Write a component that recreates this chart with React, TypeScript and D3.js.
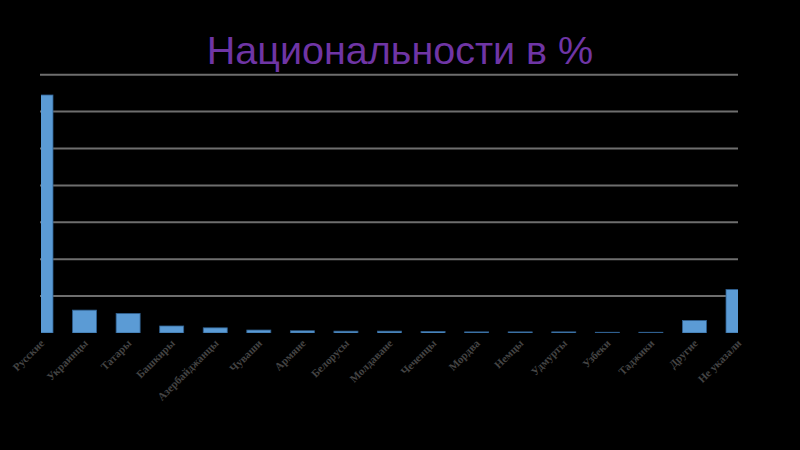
import React from "react";
import * as d3 from "d3";

const categories = [
  "Русские", "Украинцы", "Татары", "Башкиры", "Азербайджанцы", "Чуваши",
  "Армяне", "Белорусы", "Молдаване", "Чеченцы", "Мордва", "Немцы",
  "Удмурты", "Узбеки", "Таджики", "Другие", "Не указали",
];
const values = [64.5, 6.2, 5.3, 1.9, 1.4, 0.8, 0.6, 0.5, 0.5, 0.4, 0.3, 0.3, 0.3, 0.2, 0.2, 3.4, 11.8];
const yTicks = [10, 20, 30, 40, 50, 60, 70];
const title = "Национальности в %";

const W = 800, H = 450;
const left = 41, right = 738, top = 74.7, bottom = 333;

export default function App() {
  const x = d3.scalePoint<string>().domain(categories).range([left, right]);
  const y = d3.scaleLinear().domain([0, 70]).range([bottom, top]);
  const bw = 24;
  return (
    <svg width={W} height={H} style={{ position: "absolute", left: 0, top: 0, background: "#000" }}>
      <rect x={0} y={0} width={W} height={H} fill="#000" />
      <defs>
        <clipPath id="plot">
          <rect x={left} y={0} width={right - left} height={bottom} />
        </clipPath>
      </defs>
      <text x={400} y={64} textAnchor="middle" fill="#6f35a5" fontFamily="'Liberation Sans', Arial, sans-serif" fontSize={39.5}>
        {title}
      </text>
      {yTicks.map((t) => (
        <line key={t} x1={left - 1} x2={right} y1={y(t)} y2={y(t)} stroke="#6e6e6e" strokeWidth={2} />
      ))}
      <g clipPath="url(#plot)">
        {values.map((v, i) => (
          <rect
            key={categories[i]}
            x={(x(categories[i]) as number) - bw / 2}
            y={y(v)}
            width={bw}
            height={bottom - y(v)}
            fill="#5b9bd5"
            stroke="#2f5f8f"
            strokeWidth={0.8}
          />
        ))}
      </g>
      {categories.map((c) => {
        const cx = (x(c) as number) + 4;
        return (
          <text
            key={c}
            transform={`translate(${cx},${bottom + 11}) rotate(-45)`}
            textAnchor="end"
            fill="#444"
            fontFamily="'Liberation Serif', serif"
            fontWeight="bold"
            fontSize={11}
          >
            {c}
          </text>
        );
      })}
    </svg>
  );
}
